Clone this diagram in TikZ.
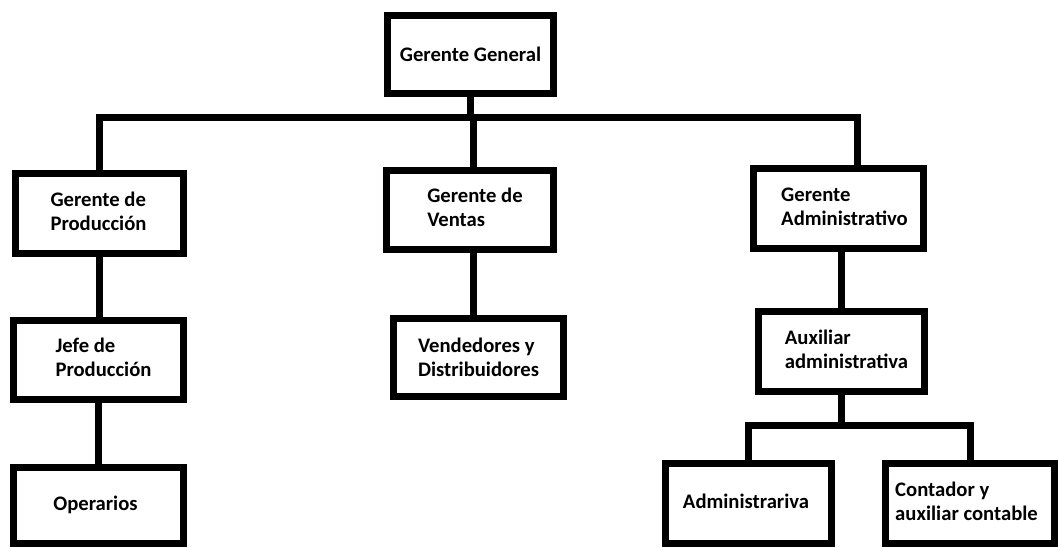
\documentclass[tikz,border=0pt]{standalone}
\usepackage{fontspec}
\setmainfont{Carlito}
\usetikzlibrary{calc}
% shift a left-aligned text block right (#1 px) or left
\newcommand\shr[2]{\hspace*{\dimexpr #1pt*3/2\relax}\begin{tabular}{@{}l@{}}#2\end{tabular}}
\newcommand\shl[2]{\begin{tabular}{@{}l@{}}#2\end{tabular}\hspace*{\dimexpr #1pt*3/2\relax}}
\begin{document}
\begin{tikzpicture}[x=0.75pt,y=-0.75pt,
  box/.style={draw=black, line width=5.25pt, fill=white, rectangle, inner sep=0pt,
    font=\bfseries\fontsize{15.5}{18}\selectfont, align=left},
  sz/.style 2 args={minimum width=#1*0.75pt, minimum height=#2*0.75pt},
  conn/.style={draw=black, line width=5.25pt, line join=miter}]
\useasboundingbox[fill=white] (0,0) rectangle (1060,547);

\node[box, sz={166}{78}] (GG) at (470.5,54.5) {Gerente General};
\node[box, sz={168}{80}] (GP) at (99.5,213.5) {\shl{1}{Gerente de\\Producción}};
\node[box, sz={167}{79}] (GV) at (470,210) {\shr{5}{Gerente de\\Ventas}};
\node[box, sz={170}{80}] (GA) at (838.5,208.5) {\shr{6}{Gerente\\Administrativo}};
\node[box, sz={170}{79}] (JP) at (98.5,360) {\shr{5}{Jefe de\\Producción}};
\node[box, sz={170}{76}] (OP) at (98.5,505.5) {\shl{3}{Operarios}};
\node[box, sz={170}{78}] (VD) at (478.5,357.5) {Vendedores y\\Distribuidores};
\node[box, sz={166}{80}] (AU) at (841.5,351.5) {\shr{5}{Auxiliar\\administrativa}};
\node[box, sz={166}{80}] (AD) at (748.5,503.5) {\shl{2.5}{Administrariva}};
\node[box, sz={169}{80}] (CO) at (970,503.5) {\shl{3.5}{Contador y\\auxiliar contable}};

\coordinate (bus) at (471,117);
\coordinate (gat) at ($(GA.north)+(18.5,0)$);
\coordinate (gvt) at ($(GV.north)+(3,0)$);
\coordinate (gvs) at ($(GV.south)+(3,0)$);
\coordinate (sub) at (842,425);

\draw[conn] (GG.south) -- (GG.south |- bus);
\draw[conn] (GP.north) |- (bus) -| (gat);
\draw[conn] (gvt) -- (gvt |- bus);
\draw[conn] (GP.south) -- (GP.south |- JP.north);
\draw[conn] (JP.south) -- (JP.south |- OP.north);
\draw[conn] (gvs) -- (gvs |- VD.north);
\draw[conn] (AU.north |- GA.south) -- (AU.north);
\draw[conn] (AU.south) -- (AU.south |- sub);
\draw[conn] (AD.north) |- (sub) -| (CO.north);
\end{tikzpicture}
\end{document}
